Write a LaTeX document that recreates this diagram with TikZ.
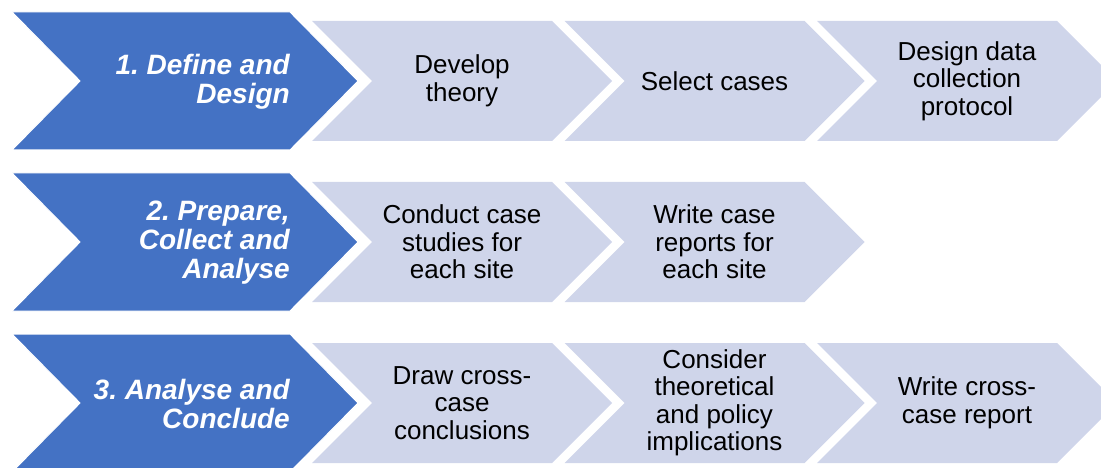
\documentclass[tikz,border=0pt]{standalone}
\usepackage{fontspec}
\setmainfont{Liberation Sans}
\frenchspacing
\definecolor{stageblue}{RGB}{68,114,196}
\definecolor{steplight}{RGB}{207,213,234}
\begin{document}
\begin{tikzpicture}[x=1pt,y=-1pt,
  stageshape/.style={fill=stageblue,draw=white,line width=1pt},
  stepshape/.style={fill=steplight},
  stagetext/.style={text=white,font=\fontsize{28}{29}\selectfont\bfseries\itshape,
    align=right,anchor=east,inner sep=0pt},
  steptext/.style={text=black,font=\fontsize{26}{27.5}\selectfont,
    align=center,inner sep=0pt}]
\useasboundingbox (0,0) rectangle (1101,468);

% light step chevrons: row centre, number of steps
\foreach \cy/\n in {81/3,242/2,403/3} {
  \foreach \c in {1,...,\n} {
    \pgfmathsetmacro{\lx}{312+252.5*(\c-1)}
    \path[stepshape] (\lx,\cy-60) -- (\lx+240,\cy-60) -- (\lx+300,\cy)
      -- (\lx+240,\cy+60) -- (\lx,\cy+60) -- (\lx+60,\cy) -- cycle;
  }
}

% stage chevrons
\foreach \cy in {81,242,403} {
  \path[stageshape] (12,\cy-69) -- (290,\cy-69) -- (358,\cy)
    -- (290,\cy+69) -- (12,\cy+69) -- (80,\cy) -- cycle;
}

% stage labels
\node[stagetext] (s1) at (290,82) {1. Define and\\Design};
\node[stagetext] (s2) at (290,243) {2. Prepare,\\Collect and\\Analyse};
\node[stagetext] (s3) at (290,404) {3. Analyse and\\Conclude};

% step labels
\node[steptext] (t11) at (462,81) {Develop\\theory};
\node[steptext] (t12) at (714.5,81) {Select cases};
\node[steptext] (t13) at (967,81) {Design data\\collection\\protocol};

\node[steptext] (t21) at (462,242) {Conduct case\\studies for\\each site};
\node[steptext] (t22) at (714.5,242) {Write case\\reports for\\each site};

\node[steptext] (t31) at (462,403) {Draw cross-\\case\\conclusions};
\node[steptext] (t32) at (714.5,403) {Consider\\theoretical\\and policy\\implications};
\node[steptext] (t33) at (967,403) {Write cross-\\case report};
\end{tikzpicture}
\end{document}
